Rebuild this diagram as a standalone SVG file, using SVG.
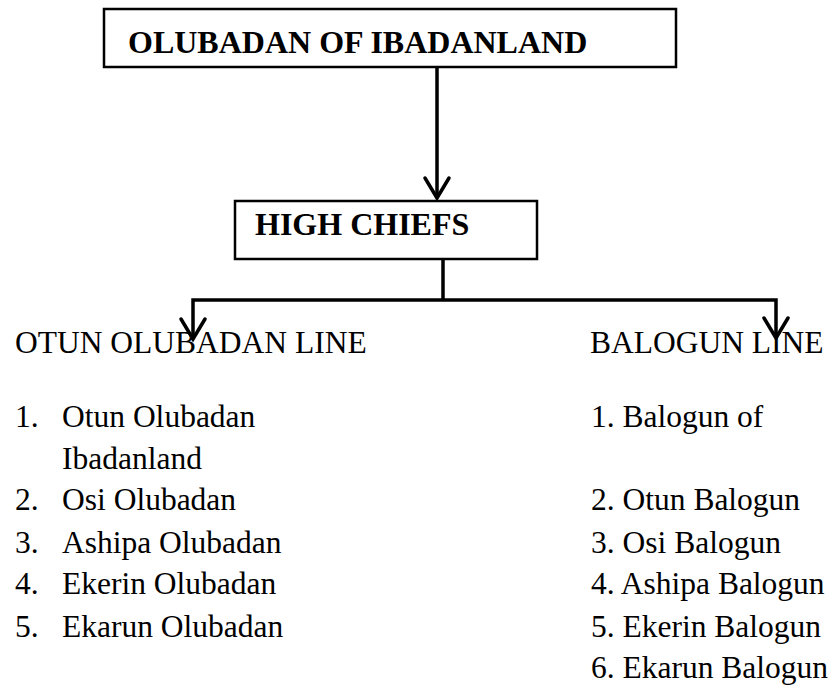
<svg xmlns="http://www.w3.org/2000/svg" width="833" height="687" viewBox="0 0 833 687">
<style>
.box{fill:#fff;stroke:#000;stroke-width:2.5}
.title{font-family:"Liberation Serif","Times New Roman",serif;font-weight:bold;font-size:32px;fill:#000}
.t{font-family:"Liberation Serif","Times New Roman",serif;font-size:31.5px;fill:#000}
.ln{fill:none;stroke:#000;stroke-width:3.5;stroke-linecap:butt;stroke-linejoin:miter}
.hd{fill:none;stroke:#000;stroke-width:3.5;stroke-linecap:round;stroke-linejoin:miter}
</style>
<rect width="833" height="687" fill="#fff"/>
<g id="connectors">
<line class="ln" x1="437" y1="67" x2="437" y2="198"/>
<polyline class="hd" points="425,178 437,198 449,178"/>
<polyline class="ln" points="443,259 443,300"/>
<polyline class="ln" points="193,339 193,300 776,300 776,338"/>
<polyline class="hd" points="181,319 193,339 205,319"/>
<polyline class="hd" points="764,318 776,338 788,318"/>
</g>
<g id="olubadan">
<rect class="box" x="104" y="9" width="572" height="58"/>
<text class="title" x="128" y="53">OLUBADAN OF IBADANLAND</text>
</g>
<g id="high-chiefs">
<rect class="box" x="235" y="201" width="302" height="58"/>
<text class="title" x="255" y="235">HIGH CHIEFS</text>
</g>
<g id="otun-line">
<text class="t" x="15" y="353">OTUN OLUBADAN LINE</text>
<text class="t" x="15" y="427">1.</text><text class="t" x="62" y="427">Otun Olubadan</text>
<text class="t" x="62" y="469">Ibadanland</text>
<text class="t" x="15" y="510">2.</text><text class="t" x="62" y="510">Osi Olubadan</text>
<text class="t" x="15" y="553">3.</text><text class="t" x="62" y="553">Ashipa Olubadan</text>
<text class="t" x="15" y="594">4.</text><text class="t" x="62" y="594">Ekerin Olubadan</text>
<text class="t" x="15" y="637">5.</text><text class="t" x="62" y="637">Ekarun Olubadan</text>
</g>
<g id="balogun-line">
<text class="t" x="590" y="353">BALOGUN LINE</text>
<text class="t" x="591" y="427">1. Balogun of</text>
<text class="t" x="591" y="510">2. Otun Balogun</text>
<text class="t" x="591" y="553">3. Osi Balogun</text>
<text class="t" x="591" y="594">4. Ashipa Balogun</text>
<text class="t" x="591" y="637">5. Ekerin Balogun</text>
<text class="t" x="591" y="678">6. Ekarun Balogun</text>
</g>
</svg>
